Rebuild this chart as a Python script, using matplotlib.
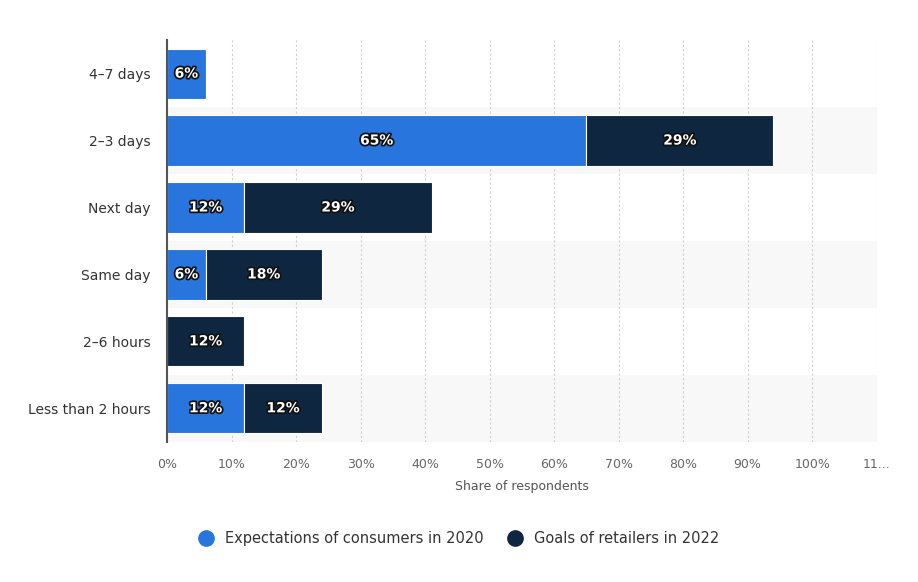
import matplotlib.pyplot as plt
import matplotlib.patheffects as pe
from matplotlib.lines import Line2D
import numpy as np

categories = ['4-7 days', '2-3 days', 'Next day', 'Same day', '2-6 hours', 'Less than 2 hours']
consumers_2020 = [6, 65, 12, 6, 0, 12]
retailers_2022 = [0, 29, 29, 18, 12, 12]
xticks = [0, 10, 20, 30, 40, 50, 60, 70, 80, 90, 100, 110]
xtick_labels = ['0%', '10%', '20%', '30%', '40%', '50%', '60%', '70%', '80%', '90%', '100%', '11...']

blue = '#2876dd'
navy = '#0f2640'

fig = plt.figure(figsize=(9.18, 5.82), dpi=100)
ax = fig.add_axes([0.182, 0.241, 0.773, 0.690])

y = np.arange(len(categories))
for i in y:
    if i % 2 == 1:
        ax.axhspan(i - 0.5, i + 0.5, color='#f8f8f8', zorder=0, lw=0)

h = 0.75
b1 = ax.barh(y, consumers_2020, height=h, color=blue, edgecolor='white', linewidth=0.8, zorder=3)
b2 = ax.barh(y, retailers_2022, left=consumers_2020, height=h, color=navy, edgecolor='white', linewidth=0.8, zorder=3)

# white labels with a dark outline, centred in each segment
stroke = [pe.withStroke(linewidth=2.5, foreground='#111111')]
for vals, lefts in [(consumers_2020, [0] * 6), (retailers_2022, consumers_2020)]:
    for i, v in enumerate(vals):
        if v > 0:
            ax.text(lefts[i] + v / 2, i, f'{v}%', ha='center', va='center', color='white',
                    fontsize=10, fontweight='bold', path_effects=stroke, zorder=4)

ax.set_xlim(0, 110)
ax.set_ylim(len(categories) - 0.5, -0.5)
ax.set_yticks(y)
ax.set_yticklabels([c.replace('-', '–') for c in categories], fontsize=10, color='#333333')
ax.set_xticks(xticks)
ax.set_xticklabels(xtick_labels, fontsize=9, color='#666666')
ax.tick_params(axis='both', length=0)
ax.tick_params(axis='x', pad=12)
ax.tick_params(axis='y', pad=12)
ax.grid(axis='x', color='#d0d0d0', linestyle=(0, (2, 2)), linewidth=0.8, zorder=1)
ax.set_axisbelow(True)
for s in ['top', 'right', 'bottom']:
    ax.spines[s].set_visible(False)
ax.spines['left'].set_color('#555555')
ax.spines['left'].set_linewidth(1.5)
ax.spines['left'].set_zorder(5)
ax.set_xlabel('Share of respondents', fontsize=9, color='#555555', labelpad=6)

handles = [Line2D([], [], marker='o', ls='', markersize=11, color=blue),
           Line2D([], [], marker='o', ls='', markersize=11, color=navy)]
fig.legend(handles, ['Expectations of consumers in 2020', 'Goals of retailers in 2022'],
           loc='center', bbox_to_anchor=(0.496, 0.075), ncol=2, frameon=False,
           fontsize=10.5, handletextpad=0.3, columnspacing=1.2, labelcolor='#333333')

fig.savefig('out.png', dpi=100, facecolor='white')
